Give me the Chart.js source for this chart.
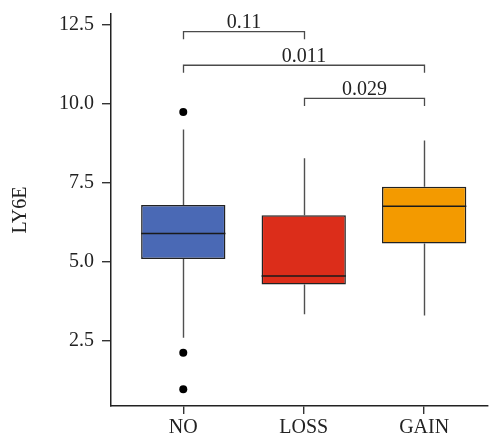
<!DOCTYPE html>
<html>
<head>
<meta charset="utf-8">
<script src="https://cdn.jsdelivr.net/npm/chart.js@4/dist/chart.umd.min.js"></script>
<style>
  html, body { margin: 0; padding: 0; background: #fff; }
  #wrap { width: 489px; height: 437px; }
</style>
</head>
<body>
<div id="wrap"><canvas id="box"></canvas></div>
<script>
const groups = ['NO', 'LOSS', 'GAIN']
const q1 = [5.09, 4.28, 5.58]
const median = [5.89, 4.55, 6.75]
const q3 = [6.79, 6.47, 7.37]
const whiskerLow = [2.60, 3.34, 3.30]
const whiskerHigh = [9.18, 8.27, 8.83]
const outlierGroup = [1, 1, 1]
const outlierValue = [9.73, 2.12, 0.97]
const yTicks = [2.5, 5.0, 7.5, 10.0, 12.5]
const pairs = [[1, 2], [1, 3], [2, 3]]
const pLabels = ['0.11', '0.011', '0.029']
const pLevels = [12.27, 11.21, 10.16]

const colors = ['#4a69b5', '#dc2d1a', '#f39a00']
const serif = '"Liberation Serif", "DejaVu Serif", serif'
const fontSize = 20

const boxExtras = {
	id: 'boxExtras',
	beforeDatasetsDraw(chart) {
		const ctx = chart.ctx
		const x = chart.scales.x, y = chart.scales.y
		ctx.save()
		ctx.strokeStyle = '#505050'
		ctx.lineWidth = 1.4
		groups.forEach((g, i) => {
			const px = Math.round(x.getPixelForValue(i + 1)) + 0.5
			ctx.beginPath()
			ctx.moveTo(px, y.getPixelForValue(q3[i]))
			ctx.lineTo(px, y.getPixelForValue(whiskerHigh[i]))
			ctx.moveTo(px, y.getPixelForValue(q1[i]))
			ctx.lineTo(px, y.getPixelForValue(whiskerLow[i]))
			ctx.stroke()
		})
		ctx.restore()
	},
	afterDatasetsDraw(chart) {
		const ctx = chart.ctx
		const x = chart.scales.x, y = chart.scales.y
		const bars = chart.getDatasetMeta(0).data
		ctx.save()
		ctx.strokeStyle = '#1a1a1a'
		ctx.lineWidth = 1.5
		bars.forEach((bar, i) => {
			const py = y.getPixelForValue(median[i])
			ctx.beginPath()
			ctx.moveTo(bar.x - bar.width / 2, py)
			ctx.lineTo(bar.x + bar.width / 2, py)
			ctx.stroke()
		})
		// significance brackets
		ctx.strokeStyle = '#4a4a4a'
		ctx.lineWidth = 1.3
		ctx.fillStyle = '#222'
		ctx.font = fontSize + 'px ' + serif
		ctx.textAlign = 'center'
		ctx.textBaseline = 'alphabetic'
		pairs.forEach((p, i) => {
			const x1 = Math.round(x.getPixelForValue(p[0])) + 0.5
			const x2 = Math.round(x.getPixelForValue(p[1])) + 0.5
			const top = y.getPixelForValue(pLevels[i])
			const tip = y.getPixelForValue(pLevels[i] - 0.24)
			ctx.beginPath()
			ctx.moveTo(x1, tip)
			ctx.lineTo(x1, top)
			ctx.lineTo(x2, top)
			ctx.lineTo(x2, tip)
			ctx.stroke()
			ctx.fillText(pLabels[i], (x1 + x2) / 2, top - 3.5)
		})
		ctx.restore()
	}
}

const boxData = groups.map((g, i) => ({ x: i + 1, y: [q1[i], q3[i]] }))
const outlierData = outlierGroup.map((g, i) => ({ x: g, y: outlierValue[i] }))

const chart = new Chart(document.getElementById('box').getContext('2d'), {
	type: 'bar',
	data: {
		datasets: [{
			data: boxData,
			backgroundColor: colors,
			borderColor: '#222',
			borderWidth: 1.5,
			borderSkipped: false,
			categoryPercentage: 0.7,
			barPercentage: 1,
		}, {
			type: 'scatter',
			data: outlierData,
			backgroundColor: '#000',
			borderWidth: 0,
			pointRadius: 4,
		}],
	},
	options: {
		responsive: true,
		maintainAspectRatio: false,
		animation: false,
		layout: { autoPadding: false, padding: { top: 14, right: 1, left: 0, bottom: 0 } },
		plugins: {
			legend: { display: false },
			tooltip: { enabled: false },
		},
		scales: {
			x: {
				type: 'linear',
				min: 0.4,
				max: 3.53,
				offset: false,
				afterBuildTicks: (axis) => { axis.ticks = groups.map((g, i) => ({ value: i + 1 })) },
				afterFit: (axis) => { axis.height = 31; axis.paddingLeft = 0; axis.paddingRight = 0 },
				grid: { offset: false, drawOnChartArea: false, drawTicks: true, tickLength: 8, color: '#333', lineWidth: 1.4 },
				border: { display: true, color: '#222', width: 1.5 },
				ticks: {
					padding: 2,
					color: '#222',
					font: { family: serif, size: fontSize },
					maxRotation: 0,
					callback: (v) => groups[v - 1],
				},
			},
			y: {
				min: 0.44,
				max: 12.83,
				afterBuildTicks: (axis) => { axis.ticks = yTicks.map(v => ({ value: v })) },
				afterFit: (axis) => { axis.width = 111; axis.paddingTop = 0; axis.paddingBottom = 0 },
				grid: { drawOnChartArea: false, drawTicks: true, tickLength: 9, color: '#333', lineWidth: 1.4 },
				border: { display: true, color: '#222', width: 1.5 },
				title: {
					display: true,
					text: 'LY6E',
					color: '#222',
					font: { family: serif, size: fontSize },
					padding: { top: 9, bottom: 0 },
				},
				ticks: {
					padding: 8,
					color: '#222',
					font: { family: serif, size: fontSize },
					callback: (v) => v.toFixed(1),
				},
			},
		},
	},
	plugins: [boxExtras],
})
</script>
</body>
</html>
